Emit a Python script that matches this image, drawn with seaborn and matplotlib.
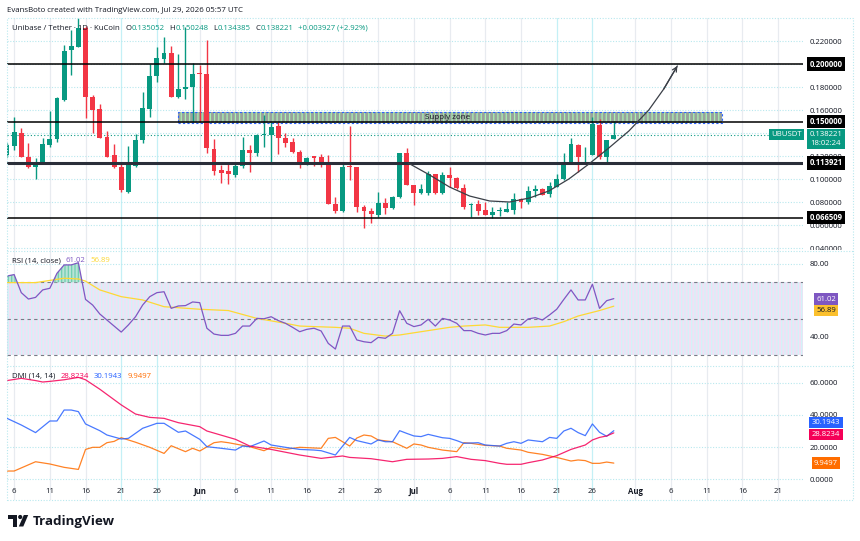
import numpy as np
import pandas as pd
import matplotlib
matplotlib.use("Agg")
import matplotlib.pyplot as plt
import matplotlib.transforms as mtransforms
from matplotlib.patches import Rectangle, Polygon, Ellipse
from matplotlib.lines import Line2D
import seaborn as sns

# UBUSDT daily candles (KuCoin), 5 May -> 29 Jul 2026
start = "2026-05-05"
opens = [0.121, 0.129, 0.1397, 0.1194, 0.1107, 0.1133, 0.1296, 0.1348, 0.1687, 0.2122,
         0.2148, 0.2313, 0.171, 0.1606, 0.1368, 0.1209, 0.1107, 0.089, 0.1116, 0.1339,
         0.1606, 0.1893, 0.2043, 0.2093, 0.171, 0.178, 0.1803, 0.1925, 0.191, 0.1261,
         0.1078, 0.1067, 0.1035, 0.1116, 0.1252, 0.1229, 0.1383, 0.1383, 0.1461, 0.136,
         0.1325, 0.1232, 0.1127, 0.120, 0.1194, 0.1142, 0.078, 0.0725, 0.1116, 0.1101,
         0.0759, 0.0725, 0.069, 0.0788, 0.0745, 0.0841, 0.1223, 0.0948, 0.0875, 0.0881,
         0.1043, 0.0875, 0.1035, 0.1006, 0.0925, 0.0774, 0.0783, 0.073, 0.0687, 0.0725,
         0.0716, 0.073, 0.0823, 0.0803, 0.0896, 0.091, 0.0869, 0.0933, 0.0997, 0.113,
         0.1296, 0.1197, 0.1209, 0.147, 0.1194, 0.135052]
highs = [0.131, 0.1536, 0.144, 0.131, 0.118, 0.1354, 0.1594, 0.1716, 0.2165, 0.2296,
         0.240, 0.233, 0.173, 0.1652, 0.1417, 0.1304, 0.1136, 0.1287, 0.1388, 0.1759,
         0.1997, 0.2145, 0.2238, 0.2157, 0.2087, 0.232, 0.2006, 0.1991, 0.2209, 0.1348,
         0.1122, 0.115, 0.115, 0.1368, 0.1296, 0.139, 0.1557, 0.1499, 0.1499, 0.1397,
         0.1354, 0.1252, 0.1194, 0.120, 0.1215, 0.1209, 0.0846, 0.113, 0.1461, 0.1101,
         0.0774, 0.0745, 0.089, 0.0832, 0.0852, 0.1229, 0.1267, 0.095, 0.0957, 0.1072,
         0.1043, 0.1064, 0.1107, 0.102, 0.0957, 0.079, 0.0817, 0.0803, 0.0759, 0.0754,
         0.0803, 0.0875, 0.0832, 0.0942, 0.0948, 0.092, 0.0977, 0.1043, 0.1229, 0.1354,
         0.1304, 0.128, 0.1542, 0.1519, 0.1335, 0.150248]
lows = [0.119, 0.1252, 0.1194, 0.1093, 0.0997, 0.113, 0.128, 0.1325, 0.168, 0.1904,
        0.2148, 0.1528, 0.1397, 0.1357, 0.119, 0.1093, 0.089, 0.0875, 0.1107, 0.131,
        0.1536, 0.1846, 0.2006, 0.171, 0.1703, 0.1693, 0.1499, 0.150, 0.1223, 0.1035,
        0.0962, 0.096, 0.102, 0.1093, 0.1064, 0.120, 0.1281, 0.113, 0.1217, 0.1275,
        0.123, 0.1093, 0.112, 0.111, 0.1107, 0.078, 0.0707, 0.0716, 0.0994, 0.0716,
        0.0571, 0.0615, 0.0667, 0.0696, 0.0742, 0.0838, 0.0945, 0.0774, 0.0872, 0.0861,
        0.0872, 0.0869, 0.0933, 0.091, 0.0736, 0.0673, 0.0687, 0.0687, 0.0658, 0.0681,
        0.0716, 0.0696, 0.0745, 0.0783, 0.0846, 0.0858, 0.0846, 0.0928, 0.0991, 0.1127,
        0.1064, 0.1136, 0.1206, 0.117, 0.1136, 0.134385]
closes = [0.130, 0.1406, 0.1194, 0.1107, 0.1148, 0.1304, 0.1348, 0.1701, 0.2116, 0.2157,
          0.2313, 0.171, 0.160, 0.1357, 0.1194, 0.1107, 0.0904, 0.113, 0.1339, 0.162,
          0.1896, 0.2049, 0.2093, 0.171, 0.1783, 0.1797, 0.1913, 0.191, 0.1267, 0.1072,
          0.1055, 0.104, 0.1116, 0.1252, 0.1229, 0.1383, 0.1386, 0.1449, 0.136, 0.131,
          0.1232, 0.1127, 0.1186, 0.1186, 0.1136, 0.078, 0.0725, 0.1107, 0.1107, 0.0759,
          0.0725, 0.0693, 0.0788, 0.0745, 0.0841, 0.1223, 0.0948, 0.0875, 0.091, 0.1043,
          0.0875, 0.1035, 0.1006, 0.0925, 0.0759, 0.0783, 0.0725, 0.0687, 0.0716, 0.073,
          0.0739, 0.0823, 0.0803, 0.0896, 0.091, 0.0861, 0.0942, 0.0997, 0.1136, 0.1301,
          0.1194, 0.1203, 0.1475, 0.1188, 0.134294, 0.138221]

# RSI(14, close), one value per day, and its moving average (turning points)
rsi = [73.4, 74.2, 64.3, 60.8, 61.7, 65.8, 66.7, 74.9, 79.5, 79.5,
       80.7, 60.6, 57.5, 52.6, 49.3, 46.0, 42.7, 46.6, 51.1, 57.5,
       62.1, 64.3, 64.8, 55.7, 57.0, 57.2, 59.2, 58.8, 44.8, 41.6,
       40.9, 40.9, 42.0, 46.0, 46.0, 50.2, 50.0, 51.1, 49.0, 47.5,
       45.3, 42.9, 44.2, 44.8, 43.3, 36.5, 33.4, 46.0, 46.0, 38.4,
       37.4, 36.9, 39.8, 39.3, 42.0, 54.4, 47.5, 45.7, 46.6, 49.7,
       46.0, 50.2, 49.3, 47.5, 43.5, 43.5, 42.0, 41.1, 42.0, 42.0,
       43.5, 47.1, 46.6, 49.9, 50.6, 49.3, 52.1, 55.2, 60.6, 65.8,
       60.3, 60.3, 68.9, 55.7, 59.9, 61.02]
rsi_ma_day = [0, 4, 8, 10, 11, 13, 16, 19, 22, 27, 31, 35, 39, 41, 43, 46, 48, 50, 53, 55,
              59, 62, 64, 67, 69, 73, 76, 78, 80, 83, 85]
rsi_ma = [69.8, 69.8, 72.2, 71.8, 70.6, 65.8, 62.1, 60.3, 56.6, 55.2, 54.5, 50.2, 47.5, 46.0,
          45.7, 45.3, 44.8, 42.0, 40.5, 41.1, 43.5, 45.3, 46.0, 46.6, 45.3, 45.3, 46.0, 48.4,
          51.5, 54.5, 56.89]

# DMI(14, 14) turning points
adx_day = [0, 2, 4, 5, 6, 8, 10, 11, 13, 16, 18, 20, 22, 24, 27, 28, 32, 34, 37, 41, 44, 47,
           48, 51, 54, 56, 59, 61, 63, 65, 67, 69, 70, 72, 73, 75, 77, 79, 81, 82, 83, 84, 85]
adx = [61.5, 62.9, 61.5, 60.6, 61.0, 62.0, 63.5, 62.0, 56.1, 46.3, 40.6, 38.5, 37.9, 35.2,
       32.7, 30.0, 24.8, 20.6, 18.5, 15.0, 12.9, 14.4, 13.5, 12.7, 10.8, 12.3, 12.5, 12.9,
       14.0, 12.3, 11.5, 9.8, 9.2, 9.2, 10.2, 11.9, 14.6, 18.5, 21.25, 24.4, 26.0, 26.9, 28.8234]
pdi_day = [0, 2, 4, 6, 7, 8, 9, 10, 11, 13, 14, 16, 17, 19, 21, 22, 24, 25, 27, 28, 30, 32,
           33, 34, 36, 37, 39, 41, 43, 44, 46, 47, 48, 49, 51, 52, 53, 54, 55, 56, 57, 58, 59,
           61, 62, 63, 64, 66, 67, 69, 70, 71, 72, 73, 75, 76, 77, 78, 79, 80, 81, 82, 83, 84, 85]
pdi = [37.9, 33.75, 29.0, 36.25, 36.25, 43.1, 43.1, 42.1, 34.4, 30.2, 27.5, 25.0, 25.4, 31.7,
       34.8, 34.8, 29.2, 30.0, 24.8, 20.2, 19.2, 18.1, 20.6, 20.2, 23.75, 21.25, 19.8, 18.5,
       18.1, 17.7, 15.0, 20.5, 26.0, 24.0, 21.9, 24.4, 23.3, 23.3, 30.2, 28.5, 26.9, 26.5, 27.9,
       25.8, 25.4, 24.0, 22.3, 22.7, 21.25, 20.6, 22.3, 23.3, 22.3, 24.4, 23.3, 26.0, 25.4, 30.0,
       31.7, 29.0, 27.1, 34.4, 29.2, 26.7, 30.1943]
mdi_day = [0, 1, 4, 6, 8, 10, 11, 12, 13, 14, 15, 16, 18, 20, 22, 23, 25, 26, 27, 29, 30, 31,
           34, 36, 37, 39, 41, 44, 45, 46, 47, 48, 49, 50, 51, 52, 54, 56, 57, 58, 59, 61, 63,
           64, 65, 67, 69, 70, 72, 73, 75, 77, 79, 80, 81, 82, 83, 84, 85]
mdi = [5.0, 5.0, 10.8, 9.4, 7.3, 6.0, 18.5, 19.8, 19.8, 22.7, 23.5, 25.8, 23.0, 19.8, 16.0,
       20.8, 17.1, 19.2, 17.5, 22.7, 23.3, 22.7, 20.2, 17.7, 19.8, 18.5, 19.8, 19.2, 25.4, 26.0,
       23.3, 20.6, 25.6, 27.5, 26.9, 24.4, 23.3, 19.2, 21.9, 21.25, 19.8, 18.1, 17.1, 22.7, 22.3,
       21.0, 20.6, 19.2, 18.1, 16.7, 15.4, 13.5, 11.25, 11.9, 11.5, 9.8, 9.8, 10.6, 9.9497]

# drawings on the chart
levels = [0.200000, 0.150000, 0.113921, 0.066509]
zone_days = [23.9, 100.1]
zone_prices = [0.1485, 0.1579]
curve_day = [56.2, 59.2, 62.0, 64.8, 67.6, 70.4, 73.2, 75.9, 78.7, 81.5, 84.3, 87.1, 89.9, 92.0, 93.9]
curve_price = [0.1139, 0.1035, 0.0930, 0.0852, 0.0809, 0.0800, 0.0835, 0.0896, 0.1000, 0.1130,
               0.1270, 0.1417, 0.1600, 0.1783, 0.1983]

# x axis
tick_days = [1, 6, 11, 16, 21, 27, 32, 37, 42, 47, 52, 57, 62, 67, 72, 77, 82, 88, 93, 98, 103, 108]
tick_labels = ["6", "11", "16", "21", "26", "Jun", "6", "11", "16", "21", "26", "Jul",
               "6", "11", "16", "21", "26", "Aug", "6", "11", "16", "21"]
cyan_days = [16, 21, 77, 82]

UP, DN, TXT = "#089981", "#F23645", "#131722"
GRID, VGRID, CYAN = "#b8e8ee", "#e8ebf0", "#c4f0f6"
C_RSI, C_MA = "#7E57C2", "#FDD835"
C_ADX, C_PDI, C_MDI = "#F50057", "#2962FF", "#FF6D00"

sns.set_theme(style="white")
plt.rcParams["font.family"] = ["Open Sans", "DejaVu Sans"]
plt.rcParams["hatch.linewidth"] = 0.9

df = pd.DataFrame({"open": opens, "high": highs, "low": lows, "close": closes},
                  index=pd.date_range(start, periods=len(opens), freq="D"))
df["day"] = (df.index - df.index[0]).days

W, H = 860, 541
fig = plt.figure(figsize=(W / 100, H / 100), dpi=100, facecolor="white")


def pane(top, bottom):
    return fig.add_axes([7 / W, 1 - bottom / H, 796 / W, (bottom - top) / H])


ax_p = pane(18, 251)
ax_r = pane(251, 366)
ax_d = pane(366, 500)
XMAX = 111.5

for ax in (ax_p, ax_r, ax_d):
    ax.set_facecolor("none")
    for s in ax.spines.values():
        s.set_visible(False)
    ax.yaxis.tick_right()
    ax.tick_params(axis="x", bottom=False, labelbottom=False)
    ax.tick_params(axis="y", length=0, pad=5, labelsize=5.6, labelcolor=TXT)
    for d in tick_days:
        ax.axvline(d, color=CYAN if d in cyan_days else VGRID, lw=0.9, zorder=0)


def tag(ax, y, text, fc, tc="white", x=1.0289, bold=True, **kw):
    ax.text(x, y, text, transform=ax.get_yaxis_transform(), ha="center", va="center",
            fontsize=5.6, color=tc, fontweight="bold" if bold else "normal", clip_on=False,
            zorder=20, bbox=dict(boxstyle="square,pad=0.3", fc=fc, ec="none"), **kw)


# ---------------- price pane ----------------
ax_p.set_ylim(0.0374, 0.24)
pticks = np.arange(0.04, 0.2201, 0.02)
ax_p.set_yticks(pticks)
# 0.14 and 0.20 sit under the price tags, as on the original chart
ax_p.set_yticklabels(["" if round(v, 2) in (0.14, 0.20) else f"{v:.6f}" for v in pticks])
for v in pticks:
    ax_p.axhline(v, color=GRID, lw=0.8, ls=(0, (1, 1.5)), zorder=0)

x = df["day"].to_numpy()
o, h, l, c = (df[k].to_numpy() for k in ("open", "high", "low", "close"))
col = np.where(c >= o, UP, DN)
ax_p.vlines(x, l, h, colors=col, lw=1, zorder=3)
ax_p.bar(x, np.maximum(np.abs(c - o), 0.0007), bottom=np.minimum(o, c), width=0.68,
         color=col, linewidth=0, zorder=4)

ax_p.add_patch(Rectangle((zone_days[0], zone_prices[0]), zone_days[1] - zone_days[0],
                         zone_prices[1] - zone_prices[0], facecolor="#98a29d",
                         edgecolor="#a9f0ae", hatch="|" * 4, lw=0, zorder=2))
ax_p.add_patch(Rectangle((zone_days[0], zone_prices[0]), zone_days[1] - zone_days[0],
                         zone_prices[1] - zone_prices[0], fill=False, edgecolor="#2962FF",
                         lw=0.8, ls=(0, (2, 2)), zorder=2.1))
ax_p.text(np.mean(curve_day[:4]) + 1.2, np.mean(zone_prices), "Supply zone", fontsize=5.8,
          color=TXT, ha="center", va="center", zorder=6)

for lv in levels:
    thick = lv == 0.113921
    ax_p.axhline(lv, color="#2a2e39" if thick else "black", lw=2.2 if thick else 1.1, zorder=5)
    tag(ax_p, lv, f"{lv:.6f}", "black")
ax_p.axhline(c[-1], color=UP, lw=0.8, ls=(0, (1, 2)), zorder=2)

ax_p.plot(curve_day, curve_price, color="#3a3f47", lw=0.9, zorder=6)
ax_p.annotate("", xy=(curve_day[-1], curve_price[-1]), xytext=(curve_day[-2], curve_price[-2]),
              arrowprops=dict(arrowstyle="->", color="#3a3f47", lw=0.9, mutation_scale=8,
                              shrinkA=0, shrinkB=0), zorder=6)

ax_p.text(1.0289, c[-1] - 0.0034, f"{c[-1]:.6f}\n18:02:24", transform=ax_p.get_yaxis_transform(),
          ha="center", va="center", fontsize=5.6, color="white", linespacing=1.35,
          clip_on=False, zorder=20, bbox=dict(boxstyle="square,pad=0.3", fc=UP, ec="none"))
tag(ax_p, c[-1] + 0.0005, "UBUSDT", UP, x=0.9789, bold=False)

# ---------------- RSI pane ----------------
ax_r.set_ylim(24.11, 87.12)
ax_r.set_yticks([40, 80])
ax_r.set_yticklabels(["40.00", "80.00"])
for v in (40, 60, 80):
    ax_r.axhline(v, color=GRID, lw=0.8, ls=(0, (1, 1.5)), zorder=0)
ax_r.fill_between([0, XMAX], 30, 70, facecolor="#f1e0f4", edgecolor="#d2f4f8", hatch="|" * 5,
                  lw=0, zorder=0.5)
for v in (70, 50, 30):
    ax_r.axhline(v, color="#787b86", lw=0.8, ls=(0, (3, 3)), zorder=1)
rsi_arr = np.array(rsi)
ax_r.fill_between(x, rsi_arr, 70, where=rsi_arr > 70, interpolate=True, facecolor="#b9e3d6",
                  edgecolor="#6fcfb0", hatch="|" * 5, lw=0, zorder=1)
sns.lineplot(x=rsi_ma_day, y=rsi_ma, ax=ax_r, color=C_MA, lw=0.9, estimator=None, legend=False, zorder=3)
sns.lineplot(x=x, y=rsi, ax=ax_r, color=C_RSI, lw=0.9, estimator=None, legend=False, zorder=4)
tag(ax_r, 60.8, f"{rsi[-1]:.2f}", C_RSI, bold=False)
tag(ax_r, 54.6, f"{rsi_ma[-1]:.2f}", "#FBC02D", tc=TXT, bold=False)

# ---------------- DMI pane ----------------
ax_d.set_ylim(-13.1, 70.6)
dticks = [0, 20, 40, 60]
ax_d.set_yticks(dticks)
ax_d.set_yticklabels([f"{v:.4f}" for v in dticks])
for v in dticks:
    ax_d.axhline(v, color=GRID, lw=0.8, ls=(0, (1, 1.5)), zorder=0)
sns.lineplot(x=mdi_day, y=mdi, ax=ax_d, color=C_MDI, lw=0.9, alpha=0.85, estimator=None, legend=False)
sns.lineplot(x=pdi_day, y=pdi, ax=ax_d, color=C_PDI, lw=0.9, alpha=0.85, estimator=None, legend=False)
sns.lineplot(x=adx_day, y=adx, ax=ax_d, color=C_ADX, lw=0.9, alpha=0.85, estimator=None, legend=False)
tag(ax_d, 35.4, f"{pdi[-1]:.4f}", C_PDI, bold=False)
tag(ax_d, 27.8, f"{adx[-1]:.4f}", C_ADX, bold=False)
tag(ax_d, 10.0, f"{mdi[-1]:.4f}", C_MDI, bold=False)

xtr = mtransforms.blended_transform_factory(ax_d.transData, ax_d.transAxes)
for d, lab in zip(tick_days, tick_labels):
    ax_d.text(d, 0.067, lab, transform=xtr, ha="center", va="center", fontsize=5.6, color=TXT,
              fontweight="bold" if lab.isalpha() else "normal")

for ax in (ax_p, ax_r, ax_d):
    ax.set_xlim(0, XMAX)
    ax.set_xlabel("")
    ax.set_ylabel("")

# ---------------- frame, separators ----------------
fig.add_artist(Rectangle((804 / W, 1 - 257 / H), 50 / W, 7.5 / H, transform=fig.transFigure,
                         fc="white", ec="none"))
for yy in (251, 366):
    fig.add_artist(Line2D([7 / W, 853 / W], [1 - yy / H] * 2, transform=fig.transFigure,
                          color=GRID, lw=0.8, ls=(0, (1, 1.5))))
fig.add_artist(Rectangle((7 / W, 1 - 500 / H), 846 / W, 482 / H, transform=fig.transFigure,
                         fill=False, ec=GRID, lw=0.8, ls=(0, (1, 1.5))))

# ---------------- header / legends ----------------
renderer = fig.canvas.get_renderer()


def pieces(x0, y0, parts, size):
    xx = x0
    for s, colr, gap in parts:
        t = fig.text(xx / W, 1 - y0 / H, s, color=colr, fontsize=size, ha="left", va="center")
        xx += t.get_window_extent(renderer).width + gap


fig.text(7 / W, 1 - 10 / H, "EvansBoto created with TradingView.com, Jul 29, 2026 05:57 UTC",
         fontsize=5.7, color=TXT, ha="left", va="center")
chg = c[-1] - c[-2]
pieces(12, 28, [("Unibase / Tether · 1D · KuCoin", TXT, 6),
                ("O", TXT, 0), (f"{o[-1]:.6f}", UP, 5),
                ("H", TXT, 0), (f"{h[-1]:.6f}", UP, 5),
                ("L", TXT, 0), (f"{l[-1]:.6f}", UP, 5),
                ("C", TXT, 0), (f"{c[-1]:.6f}", UP, 5),
                (f"{chg:+.6f} ({chg / c[-2] * 100:+.2f}%)", UP, 0)], 5.6)
pieces(12, 261, [("RSI (14, close)", TXT, 5), (f"{rsi[-1]:.2f}", C_RSI, 5),
                 (f"{rsi_ma[-1]:.2f}", C_MA, 0)], 5.6)
pieces(12, 376, [("DMI (14, 14)", TXT, 5), (f"{adx[-1]:.4f}", C_ADX, 5),
                 (f"{pdi[-1]:.4f}", C_PDI, 5), (f"{mdi[-1]:.4f}", C_MDI, 0)], 5.6)


# TradingView logo
def px(a, b):
    return (a / W, 1 - b / H)


fig.add_artist(Polygon([px(8, 515), px(17, 515), px(17, 526.5), px(12.8, 526.5), px(12.8, 519),
                        px(8, 519)], closed=True, transform=fig.transFigure, fc=TXT, ec="none"))
fig.add_artist(Ellipse(px(20.2, 517), 4.2 / W, 4.2 / H, transform=fig.transFigure, fc=TXT, ec="none"))
fig.add_artist(Polygon([px(23.8, 515), px(28.2, 515), px(23.3, 526.5), px(18.8, 526.5)],
                       closed=True, transform=fig.transFigure, fc=TXT, ec="none"))
fig.text(33 / W, 1 - 521 / H, "TradingView", fontsize=9.6, fontweight="bold", color=TXT,
         ha="left", va="center")

fig.savefig("out.png", dpi=100, facecolor="white")
